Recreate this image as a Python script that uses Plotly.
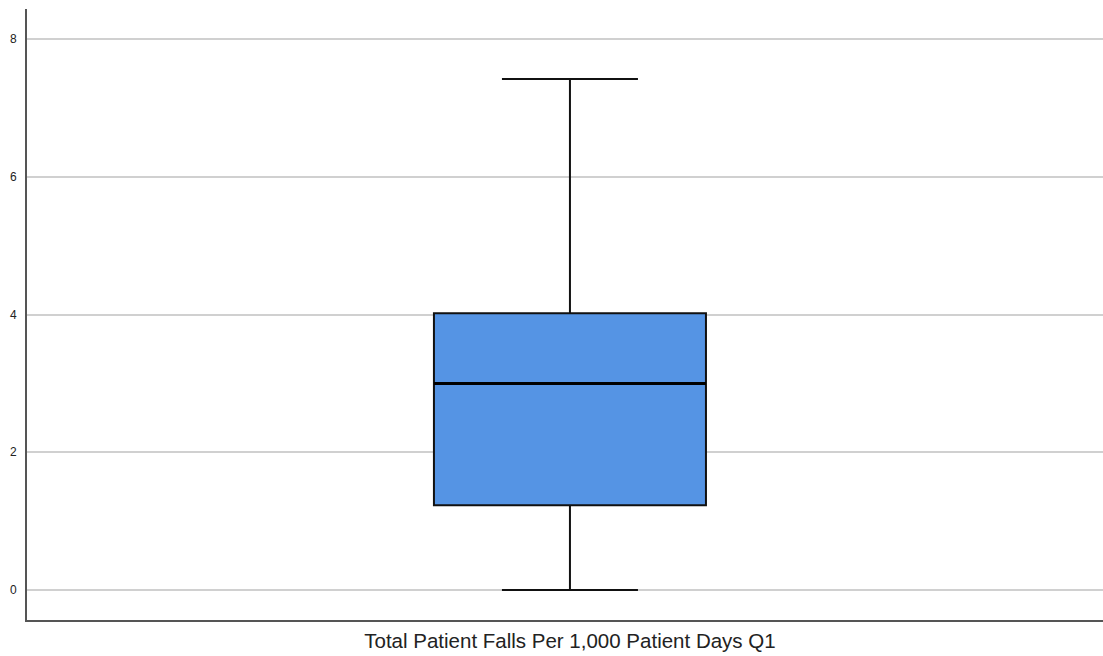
import plotly.graph_objects as go

categories = ["Total Patient Falls Per 1,000 Patient Days Q1"]
lower_fence = [0.0]
q1_values = [1.23]
median_values = [3.0]
q3_values = [4.02]
upper_fence = [7.42]
y_ticks = [0, 2, 4, 6, 8]

BOX_WIDTH = 0.2528

fig = go.Figure()
fig.add_trace(go.Box(
    x=categories,
    q1=q1_values, median=median_values, q3=q3_values,
    lowerfence=lower_fence, upperfence=upper_fence,
    width=BOX_WIDTH, whiskerwidth=0.5,
    fillcolor="#5594E4",
    line=dict(color="#111111", width=2),
    boxpoints=False, hoverinfo="skip", showlegend=False,
))
# thicker median line
fig.add_trace(go.Box(
    x=categories,
    q1=median_values, median=median_values, q3=median_values,
    lowerfence=median_values, upperfence=median_values,
    width=BOX_WIDTH, whiskerwidth=0,
    fillcolor="rgba(0,0,0,0)",
    line=dict(color="#000000", width=3),
    boxpoints=False, hoverinfo="skip", showlegend=False,
))

fig.update_layout(
    width=1103, height=656,
    margin=dict(l=27, r=0, t=9, b=36),
    paper_bgcolor="white", plot_bgcolor="white",
    font=dict(family="Liberation Sans, Arial, sans-serif", color="#222222"),
    boxmode="overlay",
    xaxis=dict(
        type="category",
        range=[-0.5046, 0.4954],
        showgrid=False, zeroline=False,
        showline=True, linecolor="#555555", linewidth=2,
        ticks="", tickfont=dict(size=20.5, color="#222222"),
        ticklabelstandoff=1,
    ),
    yaxis=dict(
        range=[-0.4356, 8.436],
        tickvals=y_ticks,
        showgrid=True, gridcolor="#d0d0d0", gridwidth=1.5,
        zeroline=False,
        showline=True, linecolor="#555555", linewidth=2,
        ticks="", tickfont=dict(size=12, color="#222222"),
        ticklabelstandoff=6,
    ),
)

fig.write_html(
    "out.html",
    config={"displayModeBar": False},
    post_script="document.body.style.margin='0';document.body.style.overflow='hidden';",
)
